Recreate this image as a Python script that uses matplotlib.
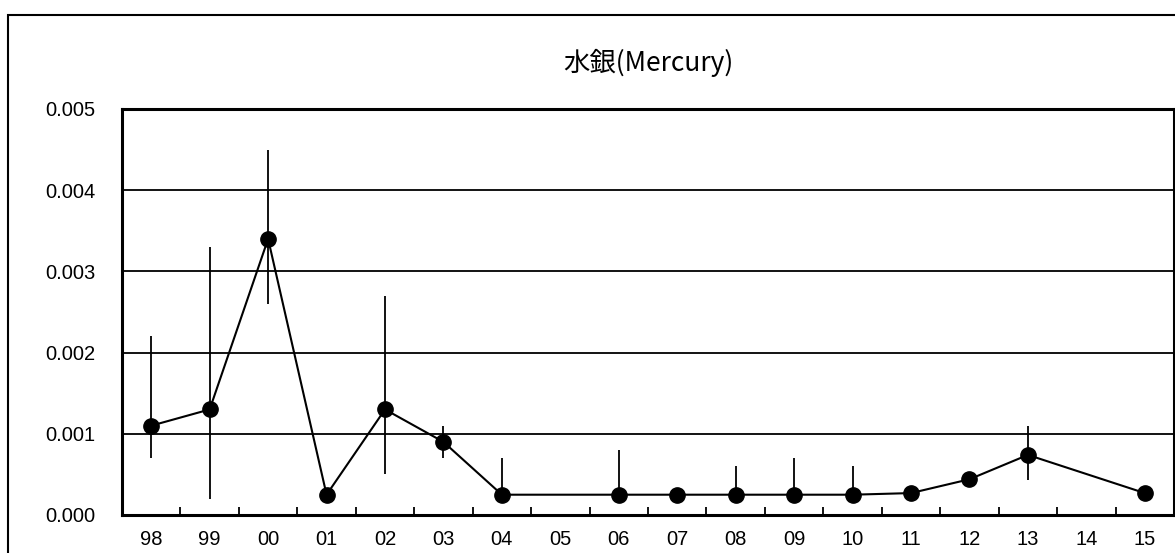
import matplotlib.pyplot as plt
import matplotlib.patches as mpatches
import numpy as np

plt.rcParams['font.family'] = ['Noto Sans CJK JP', 'DejaVu Sans']

years = ['98', '99', '00', '01', '02', '03', '04', '05', '06',
         '07', '08', '09', '10', '11', '12', '13', '14', '15']
# mean values, nan where there was no measurement
mean = [0.0011, 0.0013, 0.0034, 0.00025, 0.0013, 0.0009, 0.00025, np.nan, 0.00025,
        0.00025, 0.00025, 0.00025, 0.00025, 0.00027, 0.00044, 0.00074, np.nan, 0.00027]
low = [0.0007, 0.0002, 0.0026, 0.00025, 0.0005, 0.0007, 0.00025, np.nan, 0.00025,
       0.00025, 0.00025, 0.00025, 0.00025, 0.00027, 0.0004, 0.00043, np.nan, 0.00027]
high = [0.0022, 0.0033, 0.0045, 0.00025, 0.0027, 0.0011, 0.0007, np.nan, 0.0008,
        0.00025, 0.0006, 0.0007, 0.0006, 0.00027, 0.0005, 0.0011, np.nan, 0.00027]

mean = np.array(mean)
low = np.array(low)
high = np.array(high)
x = np.arange(len(years))
ok = ~np.isnan(mean)

fig = plt.figure(figsize=(11.75, 5.53), dpi=100)
# outer chart frame
fig.patches.append(mpatches.Rectangle((8 / 1175, -0.1), 1.2, 1.1 - 15 / 553,
                                      transform=fig.transFigure, fill=False,
                                      edgecolor='black', linewidth=1.5))
ax = fig.add_axes([122 / 1175, 1 - 515 / 553, 1052 / 1175, 406 / 553])

ax.vlines(x[ok], low[ok], high[ok], color='black', linewidth=1.3, zorder=2)
ax.plot(x[ok], mean[ok], color='black', linewidth=1.5, marker='o',
        markersize=11, zorder=3)

ax.set_xlim(-0.5, len(years) - 0.5)
ax.set_ylim(0, 0.005)
ax.set_yticks(np.arange(0, 0.0051, 0.001))
ax.set_yticklabels([f'{v:.3f}' for v in np.arange(0, 0.0051, 0.001)])
ax.yaxis.grid(True, color='black', linewidth=1.3)
ax.set_axisbelow(True)

ax.set_xticks(x)
ax.set_xticklabels(years)
ax.set_xticks(np.arange(0.5, len(years) - 0.5, 1), minor=True)
ax.tick_params(axis='x', which='major', length=0, pad=11, labelsize=14.5)
ax.tick_params(axis='x', which='minor', direction='in', length=6, width=1.3)
ax.tick_params(axis='y', length=0, pad=19, labelsize=14.5)
for lab in ax.get_xticklabels() + ax.get_yticklabels():
    lab.set_family(['Liberation Sans', 'DejaVu Sans'])

for s in ax.spines.values():
    s.set_linewidth(2.2)

fig.text(648 / 1175, 1 - 63 / 553, '水銀(Mercury)', ha='center', va='center',
         fontsize=19)

fig.savefig('out.png', dpi=100)
